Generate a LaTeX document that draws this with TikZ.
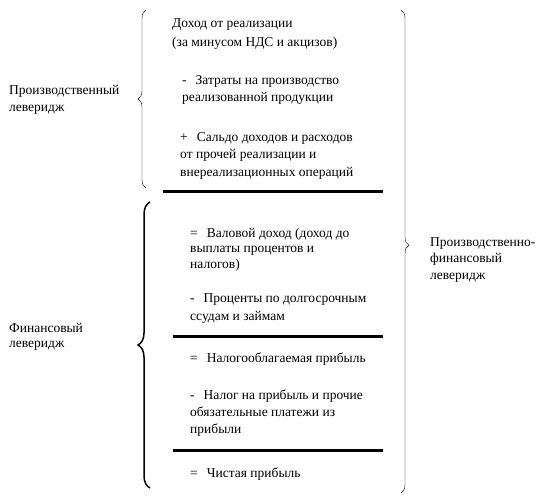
\documentclass[tikz,border=0pt]{standalone}
\usepackage{fontspec}
\setmainfont{Liberation Serif}
\usetikzlibrary{decorations.pathreplacing}
\tikzset{txt/.style={anchor=base west,inner sep=0pt,align=left,
 font=\fontsize{13.5}{16.5}\selectfont},sep/.style={line width=3pt},
 brc/.style={decorate,decoration={brace,amplitude=#1}}}
\newcommand{\opsign}[1]{#1\hspace{9pt}}
\begin{document}
\begin{tikzpicture}[x=1pt,y=-1pt]
\useasboundingbox (0,0) rectangle (557,503);
% nodes sit on the baseline of their last line
\node[txt] (prodlab) at (9,111) {Производственный\\леверидж};
\node[txt,font=\fontsize{13.5}{15}\selectfont] (finlab) at (9,347) {Финансовый\\леверидж};
\node[txt] (totlab) at (430,279) {Производственно-\\финансовый\\леверидж};
\node[txt,font=\fontsize{13.5}{19}\selectfont] (revenue) at (172,47) {Доход от реализации\\(за минусом НДС и акцизов)};
\node[txt,font=\fontsize{13.5}{17}\selectfont] (costs) at (182,101) {\opsign{-}Затраты на производство\\реализованной продукции};
\node[txt,font=\fontsize{13.5}{17.5}\selectfont] (saldo) at (180,176) {\opsign{+}Сальдо доходов и расходов\\от прочей реализации и\\внереализационных операций};
\node[txt,font=\fontsize{13.5}{15.5}\selectfont] (gross) at (190,268) {\opsign{=}Валовой доход (доход до\\выплаты процентов и\\налогов)};
\node[txt,font=\fontsize{13.5}{18}\selectfont] (interest) at (190,320) {\opsign{-}Проценты по долгосрочным\\ссудам и займам};
\node[txt] (taxable) at (190,362) {\opsign{=}Налогооблагаемая прибыль};
\node[txt,font=\fontsize{13.5}{17}\selectfont] (tax) at (190,433) {\opsign{-}Налог на прибыль и прочие\\обязательные платежи из\\прибыли};
\node[txt] (net) at (190,477) {\opsign{=}Чистая прибыль};
\foreach \x/\y in {163/191,173/336,173/450}
 \draw[sep] (\x,\y)--(383,\y);
% braces
\draw[brc=8pt] (146,188)--(146,10);
\draw[brc=12pt,line width=1.5pt] (150,488)--(150,202);
\draw[brc=8pt,decoration={aspect=0.487}] (401,10)--(401,493);
\end{tikzpicture}
\end{document}
